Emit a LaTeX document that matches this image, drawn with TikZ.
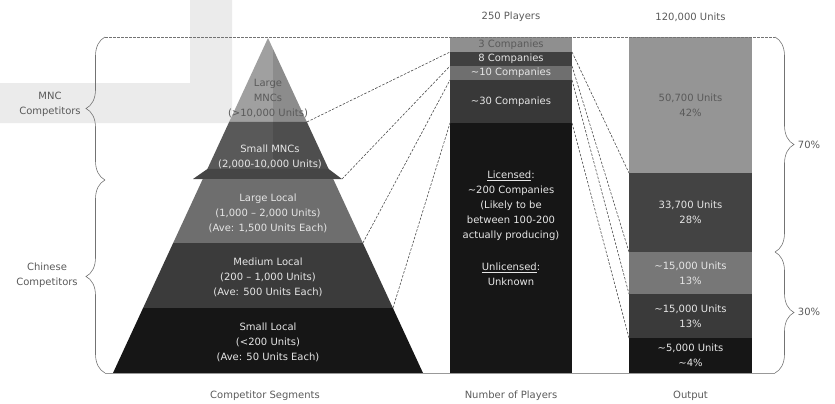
\documentclass[tikz,border=0pt]{standalone}
\usepackage{fontspec}
\setmainfont{DejaVu Sans}
\usetikzlibrary{calc,positioning,decorations.pathreplacing}
\definecolor{txt}{HTML}{5A5A5A}
\definecolor{lite}{HTML}{E6E6E6}

\begin{document}
\begin{tikzpicture}[x=1pt,y=-1pt,
  every node/.style={font=\fontsize{10}{15}\selectfont,text=txt,align=center},
  seg/.style={inner sep=0pt,outer sep=0pt,minimum width=122pt,text=lite},
  outseg/.style={inner sep=0pt,outer sep=0pt,minimum width=123pt,text=lite},
  cnx/.style={draw=black!70,line width=.6pt,dash pattern=on 2.5pt off 1.5pt},
  brc/.style={draw=black!55,line width=.6pt,decorate,decoration={brace,amplitude=19pt}}]
\useasboundingbox (0,0) rectangle (835,404);
\fill[black!8] (190,0) rectangle (232,123) (0,83) rectangle (232,123);

\coordinate (apex) at (268,38);
\coordinate (bl) at (113,373);
\coordinate (br) at (423,373);
\foreach \n/\t in {a/.2507,b/.391,c/.4209,d/.612,e/.806}{
  \coordinate (l\n) at ($(apex)!\t!(bl)$);
  \coordinate (r\n) at ($(apex)!\t!(br)$);}
\coordinate (lx) at (193,179);
\coordinate (rx) at (342,179);

\fill[fill={rgb,255:red,160;green,160;blue,160}] (apex) -- (ra) -- (la) -- cycle;
\fill[fill={rgb,255:red,89;green,89;blue,89}] (la) -- (ra) -- (rb) -- (lb) -- cycle;
\begin{scope}
  \clip (apex) -- (rb) -- (lb) -- cycle;
  \fill[black,opacity=.12] (273,30) rectangle (345,169);
\end{scope}
\fill[fill={rgb,255:red,69;green,69;blue,69}] (lb) -- (rb) -- (rx) -- (lx) -- cycle;
\fill[fill={rgb,255:red,110;green,110;blue,110}] (lc) -- (rc) -- (rd) -- (ld) -- cycle;
\fill[fill={rgb,255:red,59;green,59;blue,59}] (ld) -- (rd) -- (re) -- (le) -- cycle;
\fill[fill={rgb,255:red,22;green,22;blue,22}] (le) -- (re) -- (br) -- (bl) -- cycle;

\node at (268,99) (lmnc) {Large\\MNCs\\(>10,000 Units)};
\node[text=lite] at (270,156.5) (smnc) {Small MNCs\\(2,000-10,000 Units)};
\node[text=lite] at (268,213.5) (lloc) {Large Local\\(1,000 -- 2,000 Units)\\(Ave: 1,500 Units Each)};
\node[text=lite] at (268,277.5) (mloc) {Medium Local\\(200 -- 1,000 Units)\\(Ave: 500 Units Each)};
\node[text=lite] at (268,342) (sloc) {Small Local\\(<200 Units)\\(Ave: 50 Units Each)};

\node[seg,anchor=north,minimum height=15pt,fill={rgb,255:red,143;green,143;blue,143},text=txt] at (511,37) (p1) {3 Companies};
\node[seg,below=0pt of p1,minimum height=14pt,fill={rgb,255:red,64;green,64;blue,64}] (p2) {8 Companies};
\node[seg,below=0pt of p2,minimum height=14pt,fill={rgb,255:red,111;green,111;blue,111}] (p3) {\textasciitilde10 Companies};
\node[seg,below=0pt of p3,minimum height=43pt,fill={rgb,255:red,56;green,56;blue,56}] (p4) {\textasciitilde30 Companies};
\node[seg,below=0pt of p4,minimum height=250pt,fill={rgb,255:red,22;green,22;blue,22}] (p5) {};
\node[text=lite] at (511,228.5) (lic) {\underline{Licensed}:\\\textasciitilde200 Companies\\(Likely to be\\between 100-200\\actually producing)\\[17pt]\underline{Unlicensed}:\\Unknown};

\node[outseg,anchor=north,minimum height=136pt,fill={rgb,255:red,149;green,149;blue,149},text=txt] at (690.5,37) (o1) {50,700 Units\\42\%};
\node[outseg,below=0pt of o1,minimum height=79pt,fill={rgb,255:red,67;green,67;blue,67}] (o2) {33,700 Units\\28\%};
\node[outseg,below=0pt of o2,minimum height=42pt,fill={rgb,255:red,119;green,119;blue,119}] (o3) {\textasciitilde15,000 Units\\13\%};
\node[outseg,below=0pt of o3,minimum height=44pt,fill={rgb,255:red,58;green,58;blue,58}] (o4) {\textasciitilde15,000 Units\\13\%};
\node[outseg,below=0pt of o4,minimum height=35pt,fill={rgb,255:red,22;green,22;blue,22}] (o5) {\textasciitilde5,000 Units\\\textasciitilde4\%};

\draw[cnx] (ra) -- (p1.south west);
\draw[cnx] (rx) -- (p2.south west);
\draw[cnx] (rd) -- (p3.south west);
\draw[cnx] (re) -- (p4.south west);
\draw[cnx] (p1.south east) -- (o1.south west);
\draw[cnx] (p2.south east) -- (o2.south west);
\draw[cnx] (p3.south east) -- (o3.south west);
\draw[cnx] (p4.south east) -- (o4.south west);

\coordinate (tl) at (105,37);
\coordinate (ml) at (105,180);
\coordinate (bl2) at (105,373);
\coordinate (tr) at (775,37);
\coordinate (mr) at (775,252);
\coordinate (br2) at (775,373);
\draw[brc] (ml) -- (tl);
\draw[brc] (bl2) -- (ml);
\draw[brc] (tr) -- (mr);
\draw[brc] (mr) -- (br2);
\draw[black!55,line width=.6pt,dash pattern=on 2.5pt off 1.5pt] (tl) -- (tr);
\draw[black!40,line width=.8pt] (bl2) -- (br2);

\node at (50,104) (mnc) {MNC\\Competitors};
\node at (47,275) (chn) {Chinese\\Competitors};
\node at (809,145) (top) {70\%};
\node at (809,312) (bot) {30\%};
\node at (511,17) (nply) {250 Players};
\node at (690.5,17) (nunit) {120,000 Units};
\node at (265,396) (cseg) {Competitor Segments};
\node at (511,396) (nop) {Number of Players};
\node at (690.5,396) (outp) {Output};
\end{tikzpicture}
\end{document}
